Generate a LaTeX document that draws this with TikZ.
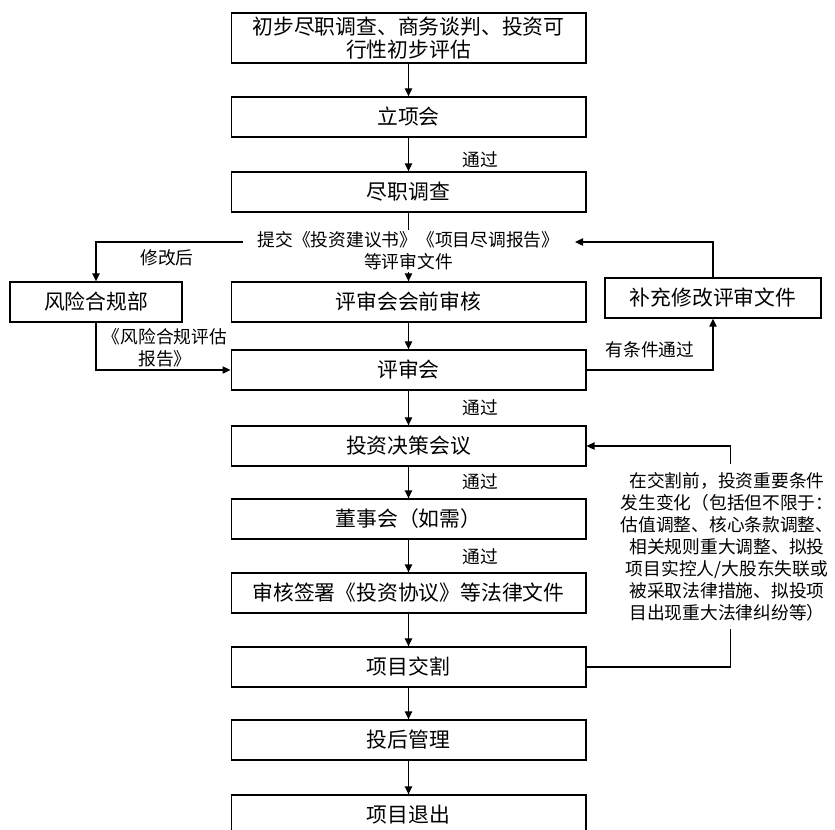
\documentclass[tikz,border=0pt]{standalone}
\usepackage{fontspec}
\setmainfont{Noto Sans CJK SC}
\usepackage{tikz}
\usetikzlibrary{arrows.meta,positioning}
\newcommand{\fuentecaja}{\fontsize{15.6pt}{17.3pt}\selectfont}
\newcommand{\fuentenota}{\fontsize{13.3pt}{16.5pt}\selectfont}
\tikzset{
  caja/.style={draw,line width=1pt,minimum width=266pt,minimum height=30pt,inner sep=0pt,align=center,font=\fuentecaja},
  nota/.style={align=center,font=\fuentenota,inner sep=1pt},
  flecha/.style={-{Triangle[length=6pt,width=5.5pt]},line width=0.9pt}
}
\begin{document}
\begin{tikzpicture}[x=0.75pt,y=-0.75pt]
\useasboundingbox (0,0) rectangle (835,829);
% main column
\node[caja,minimum height=37.5pt] (b1) at (408.5,38) {初步尽职调查、商务谈判、投资可\\行性初步评估};
\node[caja] (b2) at (408.5,117) {立项会};
\node[caja] (b3) at (408.5,192) {尽职调查};
\node[caja] (b4) at (408.5,302) {评审会会前审核};
\node[caja] (b5) at (408.5,370) {评审会};
\node[caja] (b6) at (408.5,446) {投资决策会议};
\node[caja] (b7) at (408.5,519) {董事会（如需）};
\node[caja] (b8) at (408.5,593) {审核签署《投资协议》等法律文件};
\node[caja] (b9) at (408.5,667) {项目交割};
\node[caja] (b10) at (408.5,740) {投后管理};
\node[caja] (b11) at (408.5,815) {项目退出};
% side boxes
\node[caja,minimum width=129pt] (riesgo) at (96,302) {风险合规部};
\node[caja,minimum width=162pt] (supl) at (713,298) {补充修改评审文件};
\foreach \a/\b in {b1/b2,b2/b3,b3/b4,b4/b5,b5/b6,b6/b7,b7/b8,b8/b9,b9/b10,b10/b11}
  {\draw[flecha] (\a) -- (\b);}
\node[nota,fill=white] (envio) at (408.5,251) {提交《投资建议书》《项目尽调报告》\\等评审文件};
\foreach \y in {160,408,482,557}{\node[nota,anchor=west] at (461,\y) {通过};}
% left branch
\coordinate (izq) at (243,242);
\draw[flecha] (izq) -| (riesgo.north);
\node[nota] at (167,258) {修改后};
\draw[flecha] (riesgo.south) |- (b5.west);
\node[nota] (informe) at (165,348) {《风险合规评估\\报告》};
% right branch
\coordinate (der) at (575,242);
\draw[flecha] (supl.north) |- (der);
\draw[flecha] (b5.east) -| (supl.south);
\node[nota] at (650,350) {有条件通过};
\draw[flecha] (b9.east) -- ++(144,0) |- (b6.east);
\node[nota,fill=white,inner ysep=6pt] (cambio) at (727,546.5) {在交割前，投资重要条件\\发生变化（包括但不限于：\\估值调整、核心条款调整、\\相关规则重大调整、拟投\\项目实控人/大股东失联或\\被采取法律措施、拟投项\\目出现重大法律纠纷等）};
\end{tikzpicture}
\end{document}
